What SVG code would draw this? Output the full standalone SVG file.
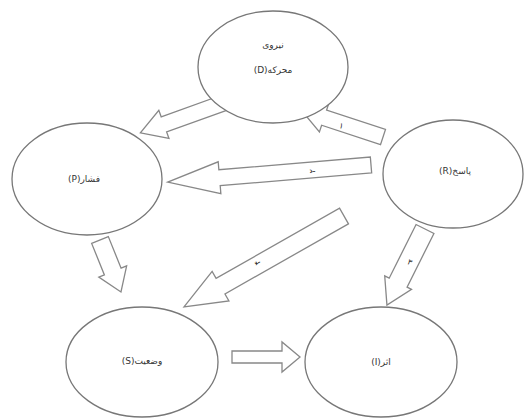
<svg xmlns="http://www.w3.org/2000/svg" width="526" height="418" viewBox="0 0 526 418">
<style>
.node{fill:#fff;stroke:#777;stroke-width:1.3}
.lbl{font-family:"DejaVu Sans","Noto Sans",sans-serif;font-size:9px;fill:#333;text-anchor:middle;direction:rtl}
.arr{fill:#fff;stroke:#888;stroke-width:1.3;stroke-linejoin:miter}
.num{font-family:"DejaVu Sans","Noto Sans",sans-serif;font-size:8px;fill:#222;text-anchor:middle}
</style>
<rect width="526" height="418" fill="#fff"/>
<g id="connectors">
<g id="a-d-p" transform="translate(226,102) rotate(160.2)"><path class="arr" d="M0,-8 L66,-8 L66,-15 L91,0 L66,15 L66,8 L0,8 Z"/></g>
<g id="a-r-d" transform="translate(383,137) rotate(198.2)"><path class="arr" d="M0,-8 L62,-8 L62,-15 L86,0 L62,15 L62,8 L0,8 Z"/><text class="num" x="43" y="-1" transform="rotate(180 43 -3)">۱</text></g>
<g id="a-r-p" transform="translate(371,165) rotate(175.2)"><path class="arr" d="M0,-8 L152,-8 L152,-16 L204,0 L152,16 L152,8 L0,8 Z"/></g>
<g id="a-r-s" transform="translate(344,216) rotate(150.4)"><path class="arr" d="M0,-9 L142,-9 L142,-17 L184,0 L142,17 L142,9 L0,9 Z"/></g>
<g id="a-r-i" transform="translate(425,229) rotate(116.6)"><path class="arr" d="M0,-10 L60,-10 L60,-15 L85,0 L60,15 L60,10 L0,10 Z"/></g>
<g id="a-p-s" transform="translate(100,240) rotate(68)"><path class="arr" d="M0,-9 L34,-9 L34,-15 L56,0 L34,15 L34,9 L0,9 Z"/></g>
<g id="a-s-i" transform="translate(232,357)"><path class="arr" d="M0,-6 L50,-6 L50,-15 L68,0 L50,15 L50,6 L0,6 Z"/></g>
<text class="num" x="312" y="174" transform="rotate(-95 312 171)">۲</text>
<text class="num" x="257" y="266" transform="rotate(-120 257 263)">۴</text>
<text class="num" x="410" y="265" transform="rotate(25 410 262)">۳</text>
</g>
<g id="node-d"><ellipse class="node" cx="273" cy="67" rx="75" ry="56"/><text class="lbl" x="273" y="48">نیروی</text><text class="lbl" x="273" y="73">محرکه(D)</text></g>
<g id="node-p"><ellipse class="node" cx="87" cy="179" rx="75" ry="56"/><text class="lbl" x="84" y="182">فشار(P)</text></g>
<g id="node-r"><ellipse class="node" cx="453" cy="174" rx="70" ry="54"/><text class="lbl" x="455" y="174">پاسخ(R)</text></g>
<g id="node-s"><ellipse class="node" cx="142" cy="362" rx="76" ry="55"/><text class="lbl" x="142" y="364">وضعیت(S)</text></g>
<g id="node-i"><ellipse class="node" cx="381" cy="362" rx="76" ry="55"/><text class="lbl" x="381" y="365">اثر(I)</text></g>
</svg>
